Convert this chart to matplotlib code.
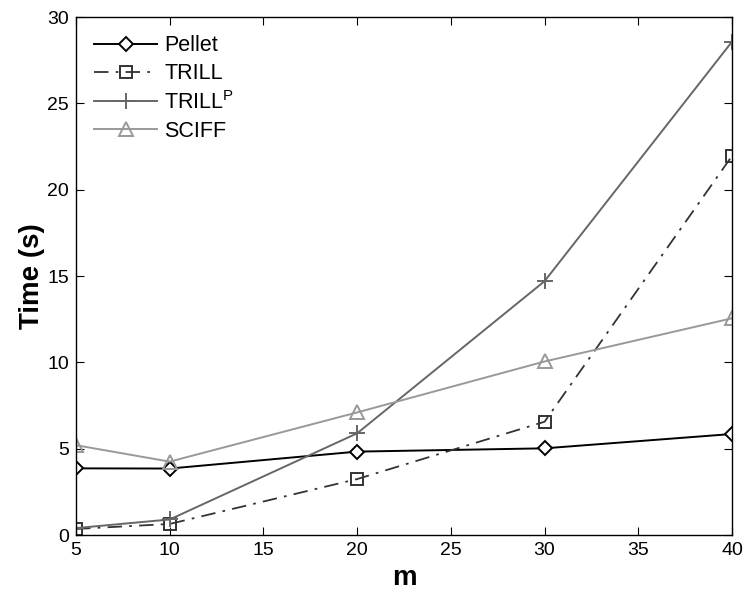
import matplotlib
matplotlib.use("Agg")
import matplotlib.pyplot as plt

plt.rcParams['font.family'] = ['Liberation Sans', 'DejaVu Sans']

m = [5, 10, 20, 30, 40]
pellet = [3.86, 3.85, 4.83, 5.02, 5.85]
trill = [0.35, 0.64, 3.24, 6.56, 21.95]
trill_p = [0.40, 0.90, 5.89, 14.70, 28.57]
sciff = [5.20, 4.25, 7.10, 10.05, 12.55]

fig = plt.figure(figsize=(7.46, 5.93), dpi=100)
ax = fig.add_axes([0.1019, 0.0978, 0.8793, 0.8735])

ax.plot(m, pellet, color='black', lw=1.4, marker='D', ms=7.5, mfc='white',
        mec='black', mew=1.4, label='Pellet')
ax.plot(m, trill, color='#333333', lw=1.3, ls=(0, (8, 4, 1.5, 4)), marker='s', ms=8,
        mfc='none', mec='#333333', mew=1.4, label='TRILL')
ax.plot(m, trill_p, color='#666666', lw=1.4, marker='+', ms=11, mew=1.4,
        label=r'TRILL$^{\mathregular{P}}$')
ax.plot(m, sciff, color='#999999', lw=1.4, marker='^', ms=10, mfc='none',
        mec='#999999', mew=1.4, label='SCIFF')

ax.set_xlim(5, 40)
ax.set_ylim(0, 30)
ax.set_xticks([5, 10, 15, 20, 25, 30, 35, 40])
ax.set_yticks([0, 5, 10, 15, 20, 25, 30])
ax.tick_params(direction='in', top=True, right=True, labelsize=14, length=6, pad=5)
for s in ax.spines.values():
    s.set_linewidth(1.0)

ax.set_xlabel('m', fontsize=20, fontweight='bold', labelpad=4)
ax.set_ylabel('Time (s)', fontsize=20, fontweight='bold', labelpad=2)

ax.legend(loc='upper left', frameon=False, fontsize=15.5, handlelength=2.9,
          borderaxespad=0.45, labelspacing=0.32, handletextpad=0.35)

fig.savefig('out.png', dpi=100)
